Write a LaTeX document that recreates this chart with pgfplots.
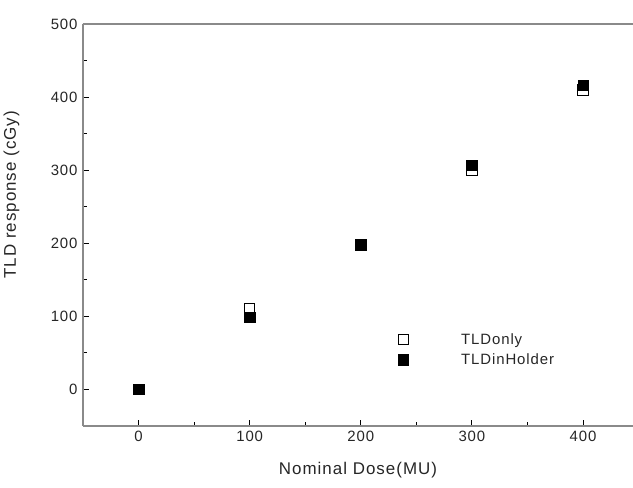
\documentclass[border=0pt]{standalone}
\usepackage{pgfplots}
\pgfplotsset{compat=1.18}
\usepackage{fontspec}
\setmainfont{Liberation Sans}[LetterSpace=6]
\usetikzlibrary{calc}
\definecolor{axgray}{HTML}{8A8A8A}

\begin{document}
\begin{tikzpicture}
\begin{axis}[
  scale only axis, width=550bp, height=402bp,
  xmin=-50, xmax=445, ymin=-50, ymax=500,
  xtick={0,100,200,300,400}, ytick={0,100,200,300,400,500},
  minor tick num=1,
  axis x line=bottom, axis y line=left,
  axis line style={-, axgray, line width=1.2bp},
  tick align=inside,
  major tick length=6bp, minor tick length=4bp,
  tick style={black, line width=1bp},
  /pgf/number format/assume math mode=true,
  ticklabel style={font=\fontsize{15}{17}\selectfont, text=black!85},
  xticklabel style={yshift=-2bp},
  yticklabel style={xshift=-2bp},
  xlabel={Nominal Dose(MU)},
  ylabel={TLD response (cGy)},
  label style={font=\fontsize{17}{19}\selectfont, text=black!85},
  xlabel style={at={(rel axis cs:0.5,0)}, anchor=north, yshift=-33bp},
  ylabel style={at={(rel axis cs:0,0.575)}, anchor=south, yshift=60bp, rotate=0},
  legend cell align=left,
  legend style={at={(axis cs:220,80)}, anchor=north west, draw=none, fill=none,
    inner sep=0pt, row sep=4bp, font=\fontsize{15}{17}\selectfont, text=black!85},
  legend image code/.code={%
    \path[draw=none, fill=none] (0bp,0bp) (76bp,0bp);
    \path[#1, draw=none] plot[only marks] coordinates {(20bp,0bp)};},
  clip=false,
]
\addplot[only marks, mark=square, mark size=5.2bp, mark options={black, draw=black, line width=0.8bp, fill=white}]
  coordinates {(0,0) (100,110) (200,197) (300,300) (400,410)};
\addlegendentry{TLDonly}
\addplot[only marks, mark=square*, mark size=5.2bp, mark options={black, draw=black, fill=black}]
  coordinates {(0,0) (100,99) (200,198) (300,307) (400,416)};
\addlegendentry{TLDinHolder}
\draw[axgray, line width=1.2bp] (rel axis cs:0,1) -- (rel axis cs:1,1);
\coordinate (bl) at (rel axis cs:0,0);
\coordinate (tr) at (rel axis cs:1,1);
\end{axis}
\pgfresetboundingbox
\path ($(bl)+(-83bp,-62bp)$) rectangle ($(tr)+(0bp,24bp)$);
\end{tikzpicture}
\end{document}
